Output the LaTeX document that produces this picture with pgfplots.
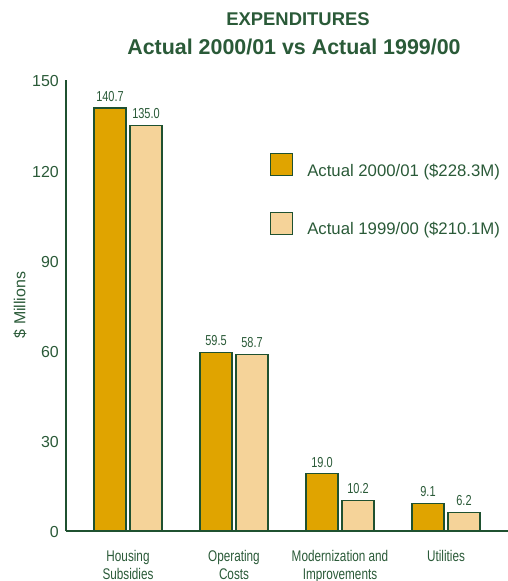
\documentclass[border=0pt]{standalone}
\usepackage{fontspec}
\usepackage{pgfplots}
\pgfplotsset{compat=1.18}
\setmainfont{Liberation Sans}
\newfontfamily\condfont[FakeStretch=0.76]{Liberation Sans}
\definecolor{dkgreen}{HTML}{1F5130}
\definecolor{txtgreen}{HTML}{2A5A38}
\definecolor{gold}{HTML}{E0A400}
\definecolor{lightgold}{HTML}{F5D399}
\begin{document}
\begin{tikzpicture}[x=1bp,y=1bp]
\path[use as bounding box] (0,0) rectangle (508,581);
\node[anchor=base, font=\bfseries\fontsize{18.5}{20}\selectfont, text=txtgreen, inner sep=0pt] at (298,555) {EXPENDITURES};
\node[anchor=base, font=\bfseries\fontsize{21.5}{22}\selectfont, text=txtgreen, inner sep=0pt] at (294,526) {Actual 2000/01 vs Actual 1999/00};
\begin{axis}[
  at={(66bp,50bp)}, anchor=south west,
  scale only axis, width=442bp, height=451bp,
  xmin=-0.585, xmax=3.585, ymin=0, ymax=150,
  axis lines=left,
  axis line style={-, draw=dkgreen, line width=1.4bp},
  /pgf/number format/assume math mode=true,
  ytick={0,30,60,90,120,150},
  xtick={0,1,2,3},
  xticklabels={{Housing\\Subsidies},{Operating\\Costs},{Modernization and\\Improvements},{Utilities}},
  major tick length=0pt,
  tick style={draw=none},
  yticklabel style={font=\fontsize{16}{18}\selectfont, text=txtgreen, inner sep=0pt, anchor=east, xshift=-7bp, yshift=-1.5bp},
  xticklabel style={font=\condfont\fontsize{15.5}{18}\selectfont, text=txtgreen, align=center, inner sep=0pt, anchor=north, yshift=-19bp},
  ylabel={\$ Millions},
  ylabel style={at={(axis description cs:-0.104,0.501)}, anchor=center, rotate=0, font=\fontsize{16}{18}\selectfont, text=txtgreen},
  ybar=4bp, bar width=32bp,
  nodes near coords,
  every node near coord/.append style={font=\condfont\fontsize{14.5}{16}\selectfont, text=txtgreen, inner sep=0pt, anchor=south, yshift=6bp},
  nodes near coords={\pgfmathprintnumber[fixed,fixed zerofill,precision=1,assume math mode=true]{\pgfplotspointmeta}},
  legend style={at={(axis description cs:0.4615,0.838)}, anchor=north west, draw=none, fill=none,
    font=\fontsize{16.8}{18}\selectfont, text=txtgreen, inner sep=0pt,
    nodes={inner sep=0pt}, column sep=14bp, row sep=34bp},
  legend cell align=left,
  legend image code/.code={\draw[#1] (0bp,-5bp) rectangle (22bp,17bp);},
  clip=false,
]
\addplot[fill=gold, draw=dkgreen, line width=1.1bp] coordinates {(0,140.7) (1,59.5) (2,19.0) (3,9.1)};
\addplot[fill=lightgold, draw=dkgreen, line width=1.1bp] coordinates {(0,135.0) (1,58.7) (2,10.2) (3,6.2)};
\legend{Actual 2000/01 (\$228.3M), Actual 1999/00 (\$210.1M)}
\end{axis}
\end{tikzpicture}
\end{document}
